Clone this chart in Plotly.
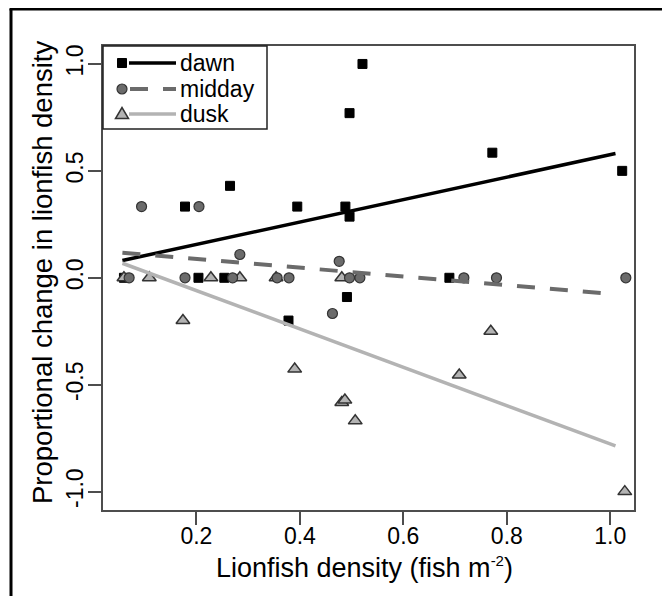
import plotly.graph_objects as go

# densidad de pez león (fish m-2) y cambio proporcional, por periodo del día
dawn_x = [0.060, 0.178, 0.204, 0.254, 0.265, 0.378, 0.395, 0.488, 0.496, 0.491, 0.496, 0.521, 0.689, 0.772, 1.023]
dawn_y = [0.0, 0.333, 0.0, 0.0, 0.43, -0.2, 0.333, 0.333, 0.286, -0.09, 0.77, 1.0, 0.0, 0.585, 0.5]

midday_x = [0.070, 0.094, 0.178, 0.205, 0.270, 0.284, 0.356, 0.379, 0.463, 0.476, 0.496, 0.516, 0.717, 0.780, 1.030]
midday_y = [0.0, 0.333, 0.0, 0.333, 0.0, 0.109, 0.0, 0.0, -0.167, 0.077, 0.0, 0.0, 0.0, 0.0, 0.0]

dusk_x = [0.060, 0.109, 0.174, 0.228, 0.284, 0.354, 0.390, 0.481, 0.481, 0.487, 0.507, 0.708, 0.769, 1.028]
dusk_y = [0.0, 0.0, -0.2, 0.0, 0.0, 0.0, -0.427, 0.0, -0.583, -0.572, -0.669, -0.455, -0.25, -1.0]

# rectas de regresión (extremos)
fit_x = [0.057, 1.010]
dawn_fit = [0.081, 0.581]
midday_fit = [0.117, -0.077]
dusk_fit = [0.068, -0.786]

x_ticks = [0.2, 0.4, 0.6, 0.8, 1.0]
x_labels = ["0.2", "0.4", "0.6", "0.8", "1.0"]
y_ticks = [-1.0, -0.5, 0.0, 0.5, 1.0]
y_labels = ["-1.0", "-0.5", "0.0", "0.5", "1.0"]

FONT = "Liberation Sans, Arial, sans-serif"
C_MID = "#6b6b6b"
C_DUSK = "#b3b3b3"
C_EDGE = "#333333"

# la página añade 8px de margen al cuerpo
OFF = 8
W, H = 670 - OFF, 596 - OFF
L, R, T, B = 95, 36, 38, 86
pw, ph = W - L - R, H - T - B

fig = go.Figure()

fig.add_trace(go.Scatter(x=dawn_x, y=dawn_y, mode="markers",
                         marker=dict(symbol="square", size=9, color="black",
                                     line=dict(color="black", width=1))))
fig.add_trace(go.Scatter(x=dusk_x, y=dusk_y, mode="markers",
                         marker=dict(symbol="triangle-up", size=12, color=C_DUSK,
                                     line=dict(color=C_EDGE, width=1.5))))
fig.add_trace(go.Scatter(x=midday_x, y=midday_y, mode="markers",
                         marker=dict(symbol="circle", size=10, color=C_MID,
                                     line=dict(color=C_EDGE, width=1.2))))

fig.add_trace(go.Scatter(x=fit_x, y=dawn_fit, mode="lines",
                         line=dict(color="black", width=3.5)))
fig.add_trace(go.Scatter(x=fit_x, y=midday_fit, mode="lines",
                         line=dict(color=C_MID, width=4, dash="18px,15px")))
fig.add_trace(go.Scatter(x=fit_x, y=dusk_fit, mode="lines",
                         line=dict(color=C_DUSK, width=3.5)))


# coordenadas de pantalla -> paper
def px_x(p):
    return (p - OFF - L) / pw


def px_y(p):
    return 1 - (p - OFF - T) / ph


shapes = []
# marco exterior (izquierda y arriba)
shapes.append(dict(type="line", xref="paper", yref="paper",
                   x0=px_x(11), x1=px_x(11), y0=px_y(9), y1=px_y(620),
                   line=dict(color="black", width=3)))
shapes.append(dict(type="line", xref="paper", yref="paper",
                   x0=px_x(9.5), x1=px_x(700), y0=px_y(9), y1=px_y(9),
                   line=dict(color="black", width=3)))
# caja de la leyenda
shapes.append(dict(type="rect", xref="paper", yref="paper",
                   x0=0, x1=px_x(267), y0=px_y(129), y1=1,
                   line=dict(color="#222222", width=1.5)))

rows = [63, 89, 114]
mx = 122
# lineas de la leyenda
shapes.append(dict(type="line", xref="paper", yref="paper",
                   x0=px_x(129), x1=px_x(176), y0=px_y(rows[0]), y1=px_y(rows[0]),
                   line=dict(color="black", width=3.5)))
shapes.append(dict(type="line", xref="paper", yref="paper",
                   x0=px_x(130), x1=px_x(176), y0=px_y(rows[1]), y1=px_y(rows[1]),
                   line=dict(color=C_MID, width=4, dash="18px,15px")))
shapes.append(dict(type="line", xref="paper", yref="paper",
                   x0=px_x(129), x1=px_x(176), y0=px_y(rows[2]), y1=px_y(rows[2]),
                   line=dict(color=C_DUSK, width=3.5)))
# simbolos de la leyenda
shapes.append(dict(type="rect", xref="paper", yref="paper",
                   xsizemode="pixel", ysizemode="pixel",
                   xanchor=px_x(mx), yanchor=px_y(rows[0]),
                   x0=-4.5, x1=4.5, y0=-4.5, y1=4.5,
                   fillcolor="black", line=dict(color="black", width=1)))
shapes.append(dict(type="circle", xref="paper", yref="paper",
                   xsizemode="pixel", ysizemode="pixel",
                   xanchor=px_x(mx), yanchor=px_y(rows[1]),
                   x0=-5, x1=5, y0=-5, y1=5,
                   fillcolor=C_MID, line=dict(color=C_EDGE, width=1.2)))
shapes.append(dict(type="path", xref="paper", yref="paper",
                   xsizemode="pixel", ysizemode="pixel",
                   xanchor=px_x(mx), yanchor=px_y(rows[2]),
                   path="M -6.5 -4.5 L 6.5 -4.5 L 0 6.5 Z",
                   fillcolor=C_DUSK, line=dict(color=C_EDGE, width=1.5)))

annotations = []
for lab, r in zip(["dawn", "midday", "dusk"], rows):
    annotations.append(dict(text=lab, xref="paper", yref="paper",
                            x=px_x(178), y=px_y(r), xanchor="left", yanchor="middle",
                            showarrow=False, font=dict(family=FONT, size=23, color="black")))

annotations.append(dict(text="Lionfish density (fish m<sup><span style='font-size:15px'>-2</span></sup>)",
                        xref="paper", yref="paper",
                        x=px_x(364), y=px_y(567), xanchor="center", yanchor="middle",
                        showarrow=False, font=dict(family=FONT, size=27, color="black")))
annotations.append(dict(text="Proportional change in lionfish density", xref="paper", yref="paper",
                        x=px_x(42), y=px_y(273), xanchor="center", yanchor="middle",
                        textangle=-90, showarrow=False,
                        font=dict(family=FONT, size=27.5, color="black")))

axis_common = dict(showgrid=False, zeroline=False, showline=True, mirror=True,
                   linecolor="#4d4d4d", linewidth=2, ticks="outside", ticklen=13,
                   tickwidth=1.5, tickcolor="#4d4d4d",
                   tickfont=dict(family=FONT, size=23, color="black"))

fig.update_layout(
    width=W, height=H,
    margin=dict(l=L, r=R, t=T, b=B),
    paper_bgcolor="white", plot_bgcolor="white",
    showlegend=False,
    xaxis=dict(range=[0.0195, 1.0458], tickvals=x_ticks, ticktext=x_labels,
               ticklabelstandoff=-9, **axis_common),
    yaxis=dict(range=[-1.086, 1.084], tickvals=y_ticks, ticktext=y_labels,
               tickangle=-90, ticklabelstandoff=-4, **axis_common),
    shapes=shapes,
    annotations=annotations,
)

fig.write_html("out.html")
